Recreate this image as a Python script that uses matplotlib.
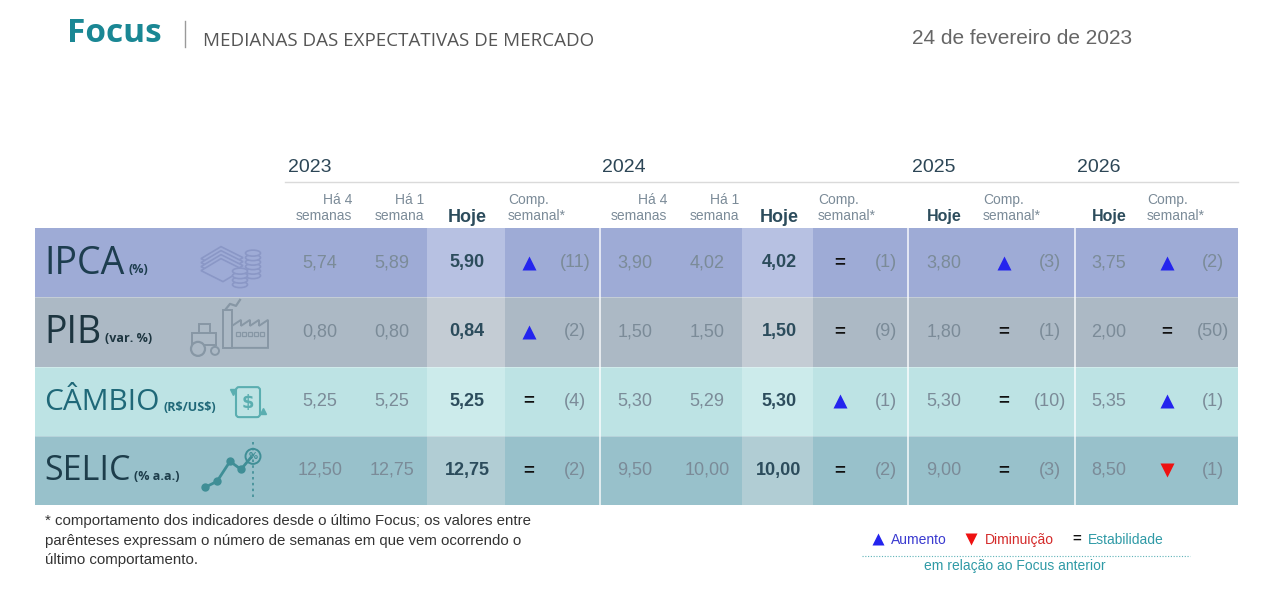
import matplotlib

matplotlib.use("Agg")
import matplotlib.pyplot as plt
from matplotlib.patches import Circle, Ellipse, FancyBboxPatch, Polygon, Rectangle

W, H = 1282, 592

indicators = ["IPCA", "PIB", "CÂMBIO", "SELIC"]
units = ["(%)", "(var. %)", r"(R\$/US\$)", "(% a.a.)"]
years = ["2023", "2024", "2025", "2026"]

ha4_2023 = [5.74, 0.80, 5.25, 12.50]
ha1_2023 = [5.89, 0.80, 5.25, 12.75]
hoje_2023 = [5.90, 0.84, 5.25, 12.75]
trend_2023 = ["up", "up", "eq", "eq"]
weeks_2023 = [11, 2, 4, 2]

ha4_2024 = [3.90, 1.50, 5.30, 9.50]
ha1_2024 = [4.02, 1.50, 5.29, 10.00]
hoje_2024 = [4.02, 1.50, 5.30, 10.00]
trend_2024 = ["eq", "eq", "up", "eq"]
weeks_2024 = [1, 9, 1, 2]

hoje_2025 = [3.80, 1.80, 5.30, 9.00]
trend_2025 = ["up", "eq", "eq", "eq"]
weeks_2025 = [3, 1, 10, 3]

hoje_2026 = [3.75, 2.00, 5.35, 8.50]
trend_2026 = ["up", "eq", "up", "down"]
weeks_2026 = [2, 50, 1, 1]

# layout, pixel coordinates
TABLE_LEFT, TABLE_RIGHT = 35, 1238
TABLE_TOP, ROW_H = 228, 69.25
ROW_COLORS = ["#9eabd6", "#acb9c5", "#bde3e4", "#98c1cb"]
HOJE_COLORS = ["#b7c1e2", "#c4ccd4", "#ccebeb", "#b1cdd4"]
ICON_COLORS = ["#8a97c6", "#8797a5", "#5aaeb0", "#3f8e96"]
LABEL_COLORS = ["#1d3d4f", "#1d3540", "#1f6878", "#1d3d4b"]
LABEL_SIZES = [27, 27, 21.5, 24.5]

GREY = "#7b8b98"
DARK = "#2c4c5c"
NUM_FONT = ["Liberation Sans", "DejaVu Sans"]
LABEL_FONT = ["Open Sans", "DejaVu Sans"]
NARROW = ["Liberation Sans Narrow", "Liberation Sans", "DejaVu Sans"]

blocks = [
    dict(year=years[0], yx=288, ha4=ha4_2023, ha1=ha1_2023, hoje=hoje_2023,
         trend=trend_2023, weeks=weeks_2023, x_ha4=320, x_ha1=392, x_hoje=467,
         x_sym=529, x_wk=575, x_comp=508, big=True, hoje_span=(427, 505)),
    dict(year=years[1], yx=602, ha4=ha4_2024, ha1=ha1_2024, hoje=hoje_2024,
         trend=trend_2024, weeks=weeks_2024, x_ha4=635, x_ha1=707, x_hoje=779,
         x_sym=840, x_wk=886, x_comp=818, big=True, hoje_span=(742, 813)),
    dict(year=years[2], yx=912, hoje=hoje_2025, trend=trend_2025, weeks=weeks_2025,
         x_hoje=944, x_sym=1004, x_wk=1050, x_comp=983, big=False),
    dict(year=years[3], yx=1077, hoje=hoje_2026, trend=trend_2026, weeks=weeks_2026,
         x_hoje=1109, x_sym=1167, x_wk=1213, x_comp=1147, big=False),
]


def fmt(value: float) -> str:
    return f"{value:.2f}".replace(".", ",")


def draw_symbol(ax, kind: str, x: float, y: float, size: float = 10) -> None:
    if kind == "up":
        ax.plot(x, y, marker="^", ms=size, color="#2424ee", mec="none")
    elif kind == "down":
        ax.plot(x, y, marker="v", ms=size, color="#ee1111", mec="none")
    else:
        ax.text(x, y, "=", ha="center", va="center", fontsize=size * 1.35,
                fontweight="bold", color="#111111", family=NUM_FONT)


def draw_icons(ax, centers: list[float]) -> None:
    # IPCA: bills and coins
    c, cy = ICON_COLORS[0], centers[0]
    for k in range(4):
        d = k * 4
        ax.add_patch(Polygon([(201, cy - 4 + d), (221, cy - 16 + d), (243, cy - 5 + d),
                              (223, cy + 7 + d)], closed=True, fc=ROW_COLORS[0], ec=c, lw=1.2))
    for k in range(6):
        ax.add_patch(Ellipse((253, cy + 13 - k * 4.5), 15, 6, fc=ROW_COLORS[0], ec=c, lw=1.2))
    for k in range(4):
        ax.add_patch(Ellipse((240, cy + 22 - k * 4.5), 15, 6, fc=ROW_COLORS[0], ec=c, lw=1.2))

    # PIB: tractor and factory
    c, cy = ICON_COLORS[1], centers[1]
    ax.add_patch(Rectangle((192, cy + 1), 24, 12, fc="none", ec=c, lw=1.4))
    ax.add_patch(Rectangle((199, cy - 8), 11, 9, fc="none", ec=c, lw=1.4))
    ax.add_patch(Circle((198, cy + 17), 7, fc=ROW_COLORS[1], ec=c, lw=1.6))
    ax.add_patch(Circle((215, cy + 19), 4, fc=ROW_COLORS[1], ec=c, lw=1.4))
    ax.add_patch(Rectangle((223, cy - 22), 9, 38, fc="none", ec=c, lw=1.4))
    ax.plot([226, 230, 236, 240], [cy - 23, cy - 28, cy - 26, cy - 32], color=c, lw=1.6)
    saw = [(232, cy + 16), (232, cy - 6), (241, cy - 12), (241, cy - 6), (250, cy - 12),
           (250, cy - 6), (259, cy - 12), (259, cy - 6), (268, cy - 12), (268, cy + 16)]
    ax.add_patch(Polygon(saw, closed=True, fc="none", ec=c, lw=1.4))
    for k in range(5):
        ax.add_patch(Rectangle((236 + k * 6, cy), 4, 4, fc="none", ec=c, lw=0.9))

    # CÂMBIO: exchange box
    c, cy = ICON_COLORS[2], centers[2]
    ax.add_patch(FancyBboxPatch((236, cy - 14), 24, 30, boxstyle="round,pad=0,rounding_size=3",
                                fc="none", ec=c, lw=1.5))
    ax.text(248, cy + 2, "$", ha="center", va="center", fontsize=13, fontweight="bold",
            color=c, family=["DejaVu Sans"])
    ax.plot(233, cy - 9, marker="v", ms=5, color=c)
    ax.plot(263, cy + 10, marker="^", ms=5, color=c)

    # SELIC: rising line with % badge
    c, cy = ICON_COLORS[3], centers[3]
    px = [205, 217, 230, 241, 251]
    py = [cy + 17, cy + 11, cy - 9, cy - 1, cy - 13]
    ax.plot(px, py, color=c, lw=2)
    ax.plot(px[:4], py[:4], "o", ms=5, color=c)
    ax.plot([253, 253], [cy - 28, cy + 30], color=c, lw=1.2, ls=(0, (1.5, 2)))
    ax.add_patch(Circle((253, cy - 14), 7.5, fc=ROW_COLORS[3], ec=c, lw=1.4))
    ax.text(253, cy - 14, "%", ha="center", va="center", fontsize=6.5, fontweight="bold",
            color=c)


def main() -> None:
    fig = plt.figure(figsize=(W / 100, H / 100), dpi=100)
    ax = fig.add_axes([0, 0, 1, 1])
    ax.set_xlim(0, W)
    ax.set_ylim(H, 0)
    ax.axis("off")
    renderer = fig.canvas.get_renderer()

    # title
    ax.text(67, 34, "Focus", ha="left", va="center", fontsize=24, fontweight="bold",
            color="#1a8794", family=LABEL_FONT)
    ax.plot([185, 185], [21, 47], color="#9a9a9a", lw=1)
    ax.text(203, 41, "MEDIANAS DAS EXPECTATIVAS DE MERCADO", ha="left", va="center",
            fontsize=13.5, color="#555555", family=LABEL_FONT)
    ax.text(912, 38, "24 de fevereiro de 2023", ha="left", va="center", fontsize=15,
            color="#666666", family=NUM_FONT)

    centers = [TABLE_TOP + ROW_H * (i + 0.5) for i in range(len(indicators))]

    # rows
    for i, name in enumerate(indicators):
        top = TABLE_TOP + ROW_H * i
        ax.add_patch(Rectangle((TABLE_LEFT, top), TABLE_RIGHT - TABLE_LEFT, ROW_H,
                               fc=ROW_COLORS[i], ec="none"))
        for block in blocks:
            if "hoje_span" in block:
                x0, x1 = block["hoje_span"]
                ax.add_patch(Rectangle((x0, top), x1 - x0, ROW_H, fc=HOJE_COLORS[i], ec="none"))
        t = ax.text(44, centers[i] + 1, name, ha="left", va="center", fontsize=LABEL_SIZES[i],
                    color=LABEL_COLORS[i], family=LABEL_FONT)
        bb = t.get_window_extent(renderer=renderer)
        ax.text(bb.x1 + 4, centers[i] + 4 + LABEL_SIZES[i] * 0.1, units[i], ha="left",
                va="center", fontsize=9, fontweight="bold", color=LABEL_COLORS[i],
                family=LABEL_FONT)
    for i in range(1, len(indicators)):
        y = TABLE_TOP + ROW_H * i
        ax.plot([TABLE_LEFT, TABLE_RIGHT], [y, y], color="white", lw=0.6, alpha=0.35)

    for x in (600, 908, 1075):
        ax.plot([x, x], [TABLE_TOP, TABLE_TOP + ROW_H * 4], color="white", lw=1.2, alpha=0.85)

    draw_icons(ax, centers)

    # headers
    ax.plot([285, TABLE_RIGHT], [182, 182], color="#dadada", lw=1)
    for block in blocks:
        ax.text(block["yx"], 168, block["year"], ha="left", va="center", fontsize=14,
                color="#2c4656", family=NUM_FONT)
        if block["big"]:
            ax.text(block["x_ha4"] + 32, 208, "Há 4\nsemanas", ha="right", va="center",
                    fontsize=10, color=GREY, family=NUM_FONT, linespacing=1.25)
            ax.text(block["x_ha1"] + 32, 208, "Há 1\nsemana", ha="right", va="center",
                    fontsize=10, color=GREY, family=NUM_FONT, linespacing=1.25)
        ax.text(block["x_hoje"], 217, "Hoje", ha="center", va="center",
                fontsize=13 if block["big"] else 11.5, fontweight="bold", color=DARK,
                family=NUM_FONT)
        ax.text(block["x_comp"], 208, "Comp.\nsemanal*", ha="left", va="center", fontsize=10,
                color=GREY, family=NUM_FONT, linespacing=1.25)

        for i, cy in enumerate(centers):
            if block["big"]:
                ax.text(block["x_ha4"], cy, fmt(block["ha4"][i]), ha="center", va="center",
                        fontsize=13, color=GREY, family=NUM_FONT)
                ax.text(block["x_ha1"], cy, fmt(block["ha1"][i]), ha="center", va="center",
                        fontsize=13, color=GREY, family=NUM_FONT)
                ax.text(block["x_hoje"], cy, fmt(block["hoje"][i]), ha="center", va="center",
                        fontsize=13, fontweight="bold", color=DARK, family=NUM_FONT)
            else:
                ax.text(block["x_hoje"], cy, fmt(block["hoje"][i]), ha="center", va="center",
                        fontsize=13, color=GREY, family=NUM_FONT)
            draw_symbol(ax, block["trend"][i], block["x_sym"], cy)
            ax.text(block["x_wk"], cy, f"({block['weeks'][i]})", ha="center", va="center",
                    fontsize=13, color=GREY, family=NUM_FONT)

    # footnote
    foot = ["* comportamento dos indicadores desde o último Focus; os valores entre",
            "parênteses expressam o número de semanas em que vem ocorrendo o",
            "último comportamento."]
    for k, line in enumerate(foot):
        ax.text(45, 521 + k * 19.5, line, ha="left", va="center", fontsize=10.8,
                color="#333333", family=NARROW)

    # legend
    draw_symbol(ax, "up", 878, 539, size=8)
    ax.text(891, 540, "Aumento", ha="left", va="center", fontsize=10, color="#3a3ad0",
            family=NARROW)
    draw_symbol(ax, "down", 971, 539, size=8)
    ax.text(985, 540, "Diminuição", ha="left", va="center", fontsize=10, color="#d42a2a",
            family=NARROW)
    draw_symbol(ax, "eq", 1077, 539, size=8)
    ax.text(1088, 540, "Estabilidade", ha="left", va="center", fontsize=10, color="#2f9aa6",
            family=NARROW)
    ax.plot([862, 1190], [556, 556], color="#5fb3b8", lw=0.8, ls=(0, (1, 1.5)))
    ax.text(1015, 566, "em relação ao Focus anterior", ha="center", va="center", fontsize=10,
            color="#2f9aa6", family=NARROW)

    fig.savefig("out.png", dpi=100, facecolor="white")
    plt.close(fig)


if __name__ == "__main__":
    main()
